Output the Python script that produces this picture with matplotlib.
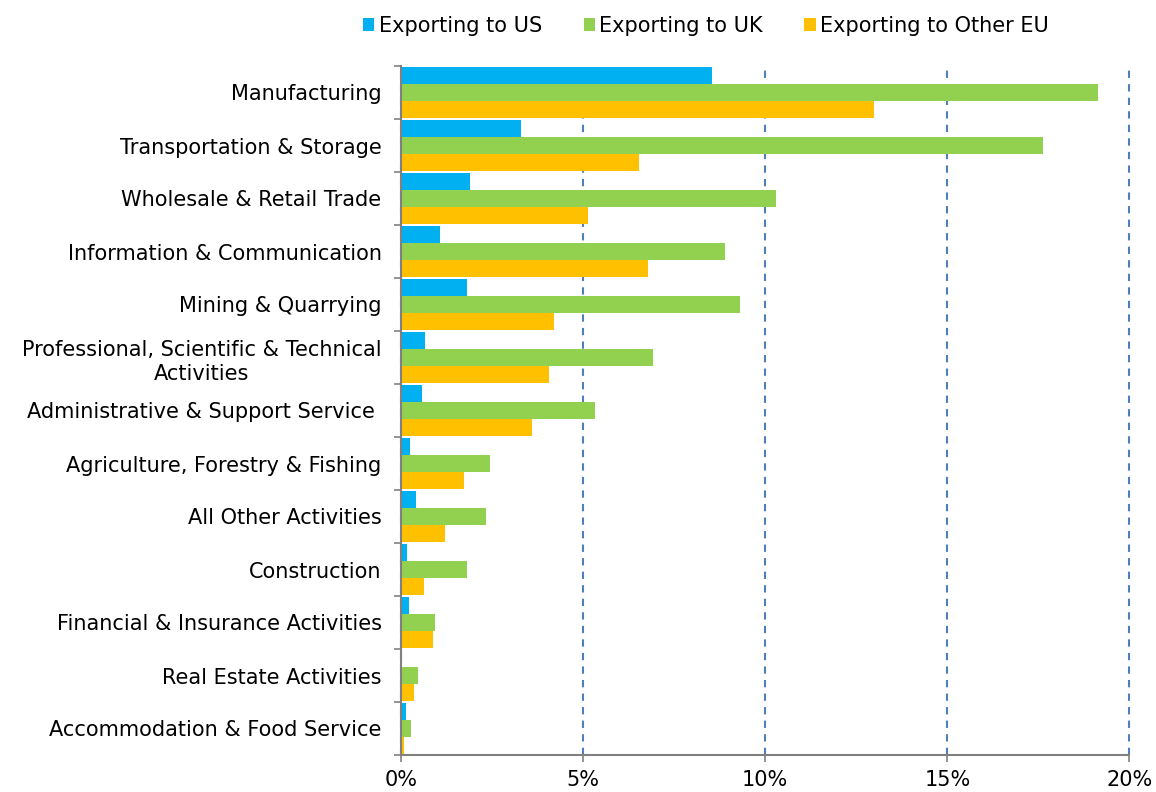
import numpy as np
import matplotlib.pyplot as plt
from matplotlib.ticker import FuncFormatter, MultipleLocator
from matplotlib.patches import Patch

# ------------------------------------------------------------
#  Data (share of firms exporting, %)
# ------------------------------------------------------------
sectors = [
    "Manufacturing",
    "Transportation & Storage",
    "Wholesale & Retail Trade",
    "Information & Communication",
    "Mining & Quarrying",
    "Professional, Scientific & Technical\nActivities",
    "Administrative & Support Service ",
    "Agriculture, Forestry & Fishing",
    "All Other Activities",
    "Construction",
    "Financial & Insurance Activities",
    "Real Estate Activities",
    "Accommodation & Food Service",
]
us = [8.54, 3.30, 1.89, 1.08, 1.81, 0.67, 0.58, 0.24, 0.40, 0.17, 0.23, 0.0, 0.14]
uk = [19.14, 17.62, 10.29, 8.89, 9.32, 6.93, 5.33, 2.45, 2.32, 1.82, 0.92, 0.46, 0.27]
other_eu = [12.99, 6.53, 5.14, 6.79, 4.21, 4.07, 3.61, 1.74, 1.22, 0.62, 0.87, 0.36, 0.07]

series_names = ["Exporting to US", "Exporting to UK", "Exporting to Other EU"]
COLORS = ["#00B0F0", "#92D050", "#FFC000"]

FS = 15

plt.rcParams.update({
    "font.family": "DejaVu Sans",
    "font.size": FS,
})

fig = plt.figure(figsize=(11.56, 7.92), dpi=100)
ax = fig.add_axes([401 / 1156, 1 - 755 / 792, (1129.5 - 401) / 1156, (755 - 66) / 792])

n = len(sectors)
pos = np.arange(n)
bar_h = 0.32
for k, (vals, col) in enumerate(zip([us, uk, other_eu], COLORS)):
    ax.barh(pos + (k - 1) * bar_h, vals, height=bar_h, color=col,
            edgecolor="none", zorder=2)

ax.set_ylim(n - 0.5, -0.5)
ax.set_xlim(0, 20)

# grid
ax.xaxis.set_major_locator(MultipleLocator(5))
ax.xaxis.set_major_formatter(FuncFormatter(lambda v, _: f"{v:.0f}%"))
ax.grid(True, axis="x", linestyle=(0, (3.5, 3)), color="#4F7FBB",
        linewidth=1.5, zorder=0)
for gl in ax.get_xgridlines():
    gl.set_clip_on(False)

# ticks
ax.set_yticks(pos)
ax.set_yticklabels(sectors, multialignment="center", linespacing=1.3)
ax.set_yticks(np.arange(n + 1) - 0.5, minor=True)
ax.tick_params(axis="y", which="major", length=0, pad=14, labelsize=FS)
ax.tick_params(axis="y", which="minor", length=5, width=1.2, color="#808080")
ax.tick_params(axis="x", which="major", length=5, width=1.2, color="#808080",
               pad=6, labelsize=FS)

for side in ["top", "right"]:
    ax.spines[side].set_visible(False)
for side in ["left", "bottom"]:
    ax.spines[side].set_color("#808080")
    ax.spines[side].set_linewidth(1.5)
    ax.spines[side].set_zorder(3)

handles = [Patch(facecolor=c, edgecolor="none") for c in COLORS]
fig.legend(handles, series_names, loc="center", ncol=3,
           bbox_to_anchor=(706 / 1156, 1 - 26 / 792), frameon=False,
           fontsize=FS, handlelength=0.55, handleheight=0.55,
           handletextpad=0.2, columnspacing=2.0)

fig.savefig("out.png", dpi=100)
